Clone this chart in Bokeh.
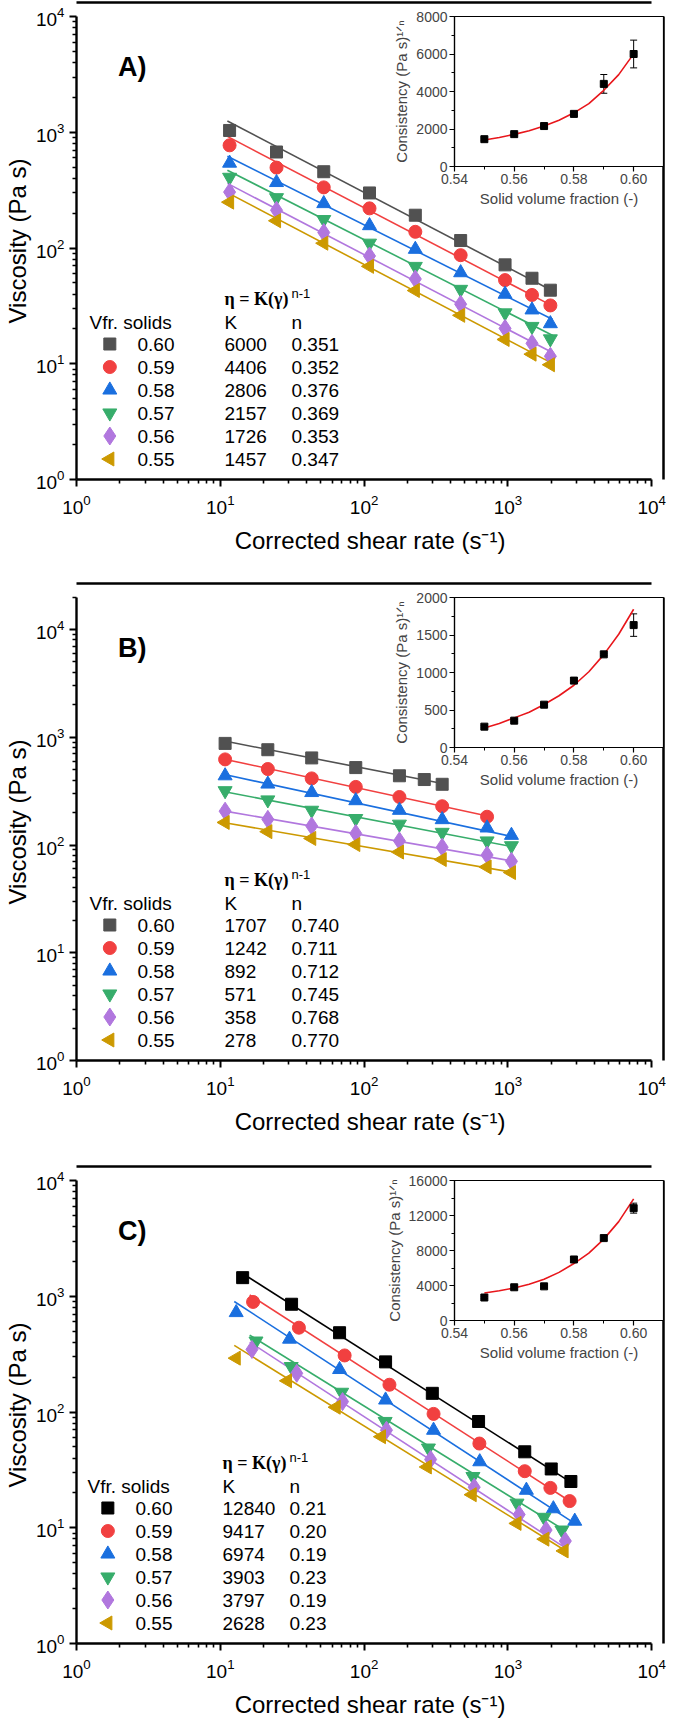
import numpy as np
from bokeh.plotting import figure
from bokeh.models import (Range1d, LogAxis, FixedTicker, Label, LinearScale,
                          ColumnDataSource, Whisker, TeeHead, NumeralTickFormatter, GridBox)
from bokeh.embed import file_html
from bokeh.resources import INLINE

# ---------------------------------------------------------------- data
vfr_labels = ["0.60", "0.59", "0.58", "0.57", "0.56", "0.55"]

# Panel A : viscosity vs corrected shear rate
A_rate = [11.6, 24.6, 52.4, 109, 227, 469, 955, 1470, 1973]
A_060 = [1036, 675, 456, 299, 192, 116, 71.5, 54.8, 43.2]
A_059 = [771, 495, 334, 220, 138, 86.7, 52.8, 39.3, 31.9]
A_058 = [541, 368, 242, 156, 97.5, 61.2, 39.9, 29.2, 22.2]
A_057 = [408, 272, 176, 110, 69.3, 43.9, 27.5, 21.0, 16.4]
A_056 = [304, 212, 136, 85.3, 54.0, 32.7, 20.2, 15.0, 11.6]
A_055 = [249, 172, 110, 69.4, 42.9, 26.2, 16.2, 12.1, 9.8]
A_K = [6000, 4406, 2806, 2157, 1726, 1457]
A_n = [0.351, 0.352, 0.376, 0.369, 0.353, 0.347]
A_fit_span = [(11.2, 2050)] * 6

# Panel B
B_rate_060 = [10.8, 21.4, 43.2, 87.5, 176, 262, 349]
B_rate_059 = [10.8, 21.4, 43.2, 87.5, 176, 349, 716]
B_rate_rest = [10.8, 21.4, 43.2, 87.5, 176, 349, 716, 1058]
B_060 = [877, 766, 643, 523, 439, 405, 366]
B_059 = [623, 507, 415, 346, 279, 229, 183]
B_058 = [439, 368, 307, 258, 210, 172, 144, 123]
B_057 = [319, 262, 210, 176, 156, 131, 109, 98.4]
B_056 = [206, 173, 150, 128, 109, 95.4, 80.7, 70.5]
B_055 = [162, 133, 115, 101, 86, 73.3, 62.5, 55.5]
B_K = [1707, 1242, 892, 571, 358, 278]
B_n = [0.740, 0.711, 0.712, 0.745, 0.768, 0.770]
B_fit_span = [(10.5, 350), (10.5, 720), (10.5, 1060), (10.5, 1060), (10.5, 1060), (10.5, 1060)]

# Panel C
C_rate_060 = [14.3, 31.3, 67.5, 141, 298, 625, 1309, 2000, 2741]
C_rate_059 = [16.9, 35.2, 73.2, 150, 304, 633, 1309, 1973, 2685]
C_rate_058 = [12.9, 30.3, 67.5, 141, 304, 637, 1344, 2070, 2915]
C_rate_057 = [17.7, 31.1, 69.8, 140, 280, 571, 1156, 1781, 2373]
C_rate_056 = [16.6, 34.0, 70.8, 143, 290, 583, 1197, 1842, 2507]
C_rate_055 = [12.9, 29.3, 63.9, 132, 275, 564, 1156, 1806, 2457]
C_060 = [1448, 853, 484, 271, 145, 82.8, 45.3, 32.2, 25.1]
C_059 = [893, 535, 308, 172, 96.3, 53.4, 30.8, 22.1, 17.0]
C_058 = [723, 426, 233, 127, 69.6, 37.2, 21.1, 14.6, 11.4]
C_057 = [410, 247, 148, 82.8, 48.8, 27.7, 16.3, 12.3, 9.55]
C_056 = [347, 216, 123, 69.6, 38.9, 22.4, 13.0, 9.55, 7.68]
C_055 = [292, 186, 110, 61.2, 33.5, 19.3, 10.9, 7.97, 6.31]
C_K = [12840, 9417, 6974, 3903, 3797, 2628]
C_n = [0.21, 0.20, 0.19, 0.23, 0.19, 0.23]
C_fit_span = [(14, 2800), (16, 2750), (12.5, 3000), (16, 2450), (16, 2600), (12.5, 2550)]

# Insets : consistency vs solid volume fraction
inset_phi = [0.55, 0.56, 0.57, 0.58, 0.59, 0.60]
insA_cons = [1457, 1726, 2157, 2806, 4406, 6000]
insA_err = [70, 80, 60, 130, 500, 740]
insB_cons = [278, 358, 571, 892, 1242, 1632]
insB_err = [15, 15, 15, 40, 15, 150]
insC_cons = [2628, 3797, 3903, 6974, 9417, 12840]
insC_err = [120, 200, 100, 300, 250, 570]
curve_phi = [0.55, 0.555, 0.56, 0.565, 0.57, 0.575, 0.58, 0.585, 0.59, 0.595, 0.60]
insA_curve = [1413, 1550, 1714, 1910, 2155, 2470, 2862, 3350, 4064, 4900, 6007]
insB_curve = [260, 320, 395, 470, 574, 690, 830, 1010, 1238, 1510, 1843]
insC_curve = [3139, 3400, 3713, 4150, 4708, 5500, 6507, 7700, 9301, 11300, 13895]

# ---------------------------------------------------------------- style
FONT = "Liberation Sans"
SERIF = "Liberation Serif"
COLORS = ["#515151", "#F14040", "#1A6FDF", "#37AD6B", "#B177DE", "#CC9900"]
COLORS_C = ["#000000", "#F14040", "#1A6FDF", "#37AD6B", "#B177DE", "#CC9900"]
MARKERS = ["square", "circle", "triangle", "inverted_triangle", "diamond", "triangle"]
ANGLES = [0, 0, 0, 0, 0, np.pi / 2]
SIZES = [12, 13, 14, 14, 18, 14]

MAJ = [1, 10, 100, 1000, 10000]
MINOR = [m * 10 ** k for k in range(0, 5) for m in range(2, 10)]
X_END = 10 ** (4 + 12 / 146.75)
FRAME_W = 599
FRAME_H = 477
FRAME_BOTTOM = 479

# legend-table layout (pixels from frame's bottom-left corner)
LEG_TITLE_X, LEG_MARK_X, LEG_VAL_X, LEG_K_X, LEG_N_X = 13, 34, 61, 148, 215
LEG_ROW0_Y, LEG_PITCH, LEG_HEAD_Y, LEG_FORM_Y = 135.5, 23, 157.5, 180.5


def blank_axis(bounds):
    return LogAxis(ticker=FixedTicker(ticks=[]), bounds=bounds, axis_line_width=2.5,
                   major_tick_out=0, major_tick_in=0, minor_tick_out=0, minor_tick_in=0,
                   major_label_standoff=0, major_label_text_font_size="0px")


def style_log_axis(ax, top_bound):
    ax.ticker = FixedTicker(ticks=MAJ, minor_ticks=[v for v in MINOR if v <= top_bound])
    ax.bounds = (1, top_bound)
    ax.axis_line_width = 2.4
    ax.major_tick_out = 7
    ax.major_tick_in = 0
    ax.minor_tick_out = 4
    ax.minor_tick_in = 0
    ax.major_tick_line_width = 2
    ax.minor_tick_line_width = 1.6
    ax.major_label_text_font = FONT
    ax.major_label_text_font_size = "19px"
    ax.major_label_text_color = "black"
    ax.axis_label_text_font = FONT
    ax.axis_label_text_font_size = "24px"
    ax.axis_label_text_font_style = "normal"
    ax.axis_label_text_color = "black"


def main_fig(height, y_end, y_bound, xs, ys, K, n, spans, colors, letter, dx, nfmt):
    p = figure(width=677, height=height, x_axis_type="log", y_axis_type="log",
               x_range=Range1d(1, X_END), y_range=Range1d(1, y_end),
               output_backend="svg", toolbar_location=None,
               min_border_left=75, min_border_right=3, min_border_top=2,
               min_border_bottom=height - FRAME_BOTTOM)
    p.outline_line_color = None
    p.xgrid.visible = False
    p.ygrid.visible = False
    # pixel space of the frame, used for the legend table keys
    p.extra_x_ranges = {"px": Range1d(0, FRAME_W)}
    p.extra_y_ranges = {"px": Range1d(0, FRAME_H)}
    p.extra_x_scales = {"px": LinearScale()}
    p.extra_y_scales = {"px": LinearScale()}

    xa = p.below[0]
    ya = p.left[0]
    style_log_axis(xa, 10000)
    style_log_axis(ya, y_bound)
    xa.major_label_standoff = 8
    xa.axis_label_standoff = 10
    xa.axis_label = "Corrected shear rate (s\u207b\u00b9)"
    ya.major_label_standoff = 5
    ya.axis_label_standoff = 2
    ya.axis_label = "Viscosity (Pa s)"
    p.add_layout(blank_axis((1, 10000)), "above")
    p.add_layout(blank_axis((1, y_bound)), "right")

    for i in range(6):
        x0, x1 = spans[i]
        p.line([x0, x1], [K[i] * x0 ** (n[i] - 1), K[i] * x1 ** (n[i] - 1)],
               line_color=colors[i], line_width=1.6)
    for i in range(6):
        p.scatter(xs[i], ys[i], marker=MARKERS[i], angle=ANGLES[i], size=SIZES[i],
                  fill_color=colors[i], line_color=colors[i])

    # legend table keys
    key_src = ColumnDataSource(dict(
        x=[LEG_MARK_X + dx] * 6,
        y=[LEG_ROW0_Y - LEG_PITCH * i for i in range(6)],
        m=MARKERS, a=ANGLES, s=SIZES, c=colors))
    p.scatter("x", "y", marker="m", angle="a", size="s", fill_color="c", line_color="c",
              source=key_src, x_range_name="px", y_range_name="px")

    def lab(x, y, text, size="19px", font=FONT, style="normal"):
        p.add_layout(Label(x=x, y=y, x_units="screen", y_units="screen", text=text,
                           text_font=font, text_font_size=size, text_font_style=style,
                           text_baseline="middle", text_align="left", text_color="black"))

    lab(41.5, 413, letter, size="27px", style="bold")
    lab(LEG_K_X + dx, LEG_FORM_Y, "\u03b7 = K(\u03b3)", size="18px", font=SERIF, style="bold")
    lab(LEG_N_X + dx, LEG_FORM_Y + 6, "n-1", size="13px")
    lab(LEG_TITLE_X + dx, LEG_HEAD_Y, "Vfr. solids")
    lab(LEG_K_X + dx, LEG_HEAD_Y, "K")
    lab(LEG_N_X + dx, LEG_HEAD_Y, "n")
    for i in range(6):
        yc = LEG_ROW0_Y - LEG_PITCH * i
        lab(LEG_VAL_X + dx, yc, vfr_labels[i])
        lab(LEG_K_X + dx, yc, str(K[i]))
        lab(LEG_N_X + dx, yc, nfmt.format(n[i]))
    return p


def inset_fig(frame_h, left, y_end, yticks, yminor, cons, err, curve):
    q = figure(width=295, height=8 + frame_h + 50,
               x_range=Range1d(0.54, 0.61), y_range=Range1d(0, y_end),
               output_backend="svg", toolbar_location=None,
               min_border_left=left, min_border_right=14, min_border_top=8,
               min_border_bottom=50)
    q.border_fill_alpha = 0
    q.background_fill_color = "white"
    q.outline_line_color = "black"
    q.outline_line_width = 1.2
    q.outline_line_alpha = 1
    q.xgrid.visible = False
    q.ygrid.visible = False
    xa = q.xaxis[0]
    ya = q.yaxis[0]
    xa.ticker = FixedTicker(ticks=[0.54, 0.56, 0.58, 0.60], minor_ticks=[0.55, 0.57, 0.59])
    xa.formatter = NumeralTickFormatter(format="0.00")
    ya.ticker = FixedTicker(ticks=yticks, minor_ticks=yminor)
    for ax in (xa, ya):
        ax.axis_line_width = 1.2
        ax.major_tick_out = 5
        ax.major_tick_in = 0
        ax.minor_tick_out = 3
        ax.minor_tick_in = 0
        ax.major_tick_line_width = 1.2
        ax.minor_tick_line_width = 1
        ax.major_label_text_font = FONT
        ax.major_label_text_font_size = "14px"
        ax.major_label_standoff = 2
        ax.axis_label_text_font = FONT
        ax.axis_label_text_font_size = "15px"
        ax.axis_label_text_font_style = "normal"
        ax.axis_label_standoff = 3
    xa.axis_label = "Solid volume fraction (-)"
    ya.axis_label = "Consistency (Pa s)\u00b9\u141f\u207f"

    q.line(curve_phi, curve, line_color="#E8161B", line_width=1.6)
    src = ColumnDataSource(dict(x=inset_phi, y=cons,
                                lo=[c - e for c, e in zip(cons, err)],
                                hi=[c + e for c, e in zip(cons, err)]))
    q.add_layout(Whisker(source=src, base="x", upper="hi", lower="lo",
                         line_color="black", line_width=1,
                         upper_head=TeeHead(size=7, line_color="black", line_width=1),
                         lower_head=TeeHead(size=7, line_color="black", line_width=1)))
    q.scatter("x", "y", source=src, marker="square", size=7, color="black")
    return q


Y_END_AC = 10 ** (4 + 14 / 115.75)
Y_END_B = 10 ** (4 + 46 / 107.75)

pA = main_fig(581, Y_END_AC, 10000,
              [A_rate] * 6, [A_060, A_059, A_058, A_057, A_056, A_055],
              A_K, A_n, A_fit_span, COLORS, "A)", 0, "{:.3f}")
pB = main_fig(583, Y_END_B, 20000,
              [B_rate_060, B_rate_059, B_rate_rest, B_rate_rest, B_rate_rest, B_rate_rest],
              [B_060, B_059, B_058, B_057, B_056, B_055],
              B_K, B_n, B_fit_span, COLORS, "B)", 0, "{:.3f}")
pC = main_fig(560, Y_END_AC, 10000,
              [C_rate_060, C_rate_059, C_rate_058, C_rate_057, C_rate_056, C_rate_055],
              [C_060, C_059, C_058, C_057, C_056, C_055],
              C_K, C_n, C_fit_span, COLORS_C, "C)", -2, "{:.2f}")

iA = inset_fig(150, 70, 8000, [0, 2000, 4000, 6000, 8000], [1000, 3000, 5000, 7000],
               insA_cons, insA_err, insA_curve)
iB = inset_fig(150, 70, 2000, [0, 500, 1000, 1500, 2000], [250, 750, 1250, 1750],
               insB_cons, insB_err, insB_curve)
iC = inset_fig(140, 72, 16000, [0, 4000, 8000, 12000, 16000], [2000, 6000, 10000, 14000],
               insC_cons, insC_err, insC_curve)

grid = GridBox(children=[(pA, 0, 0, 3, 2), (iA, 1, 1, 1, 1),
                         (pB, 3, 0, 3, 2), (iB, 4, 1, 1, 1),
                         (pC, 6, 0, 3, 2), (iC, 7, 1, 1, 1)],
               rows=[f"{v}px" for v in [8, 208, 365, 8, 208, 367, 8, 198, 354]],
               cols=["382px", "295px"], spacing=0)

open("out.html", "w").write(file_html(grid, INLINE))
